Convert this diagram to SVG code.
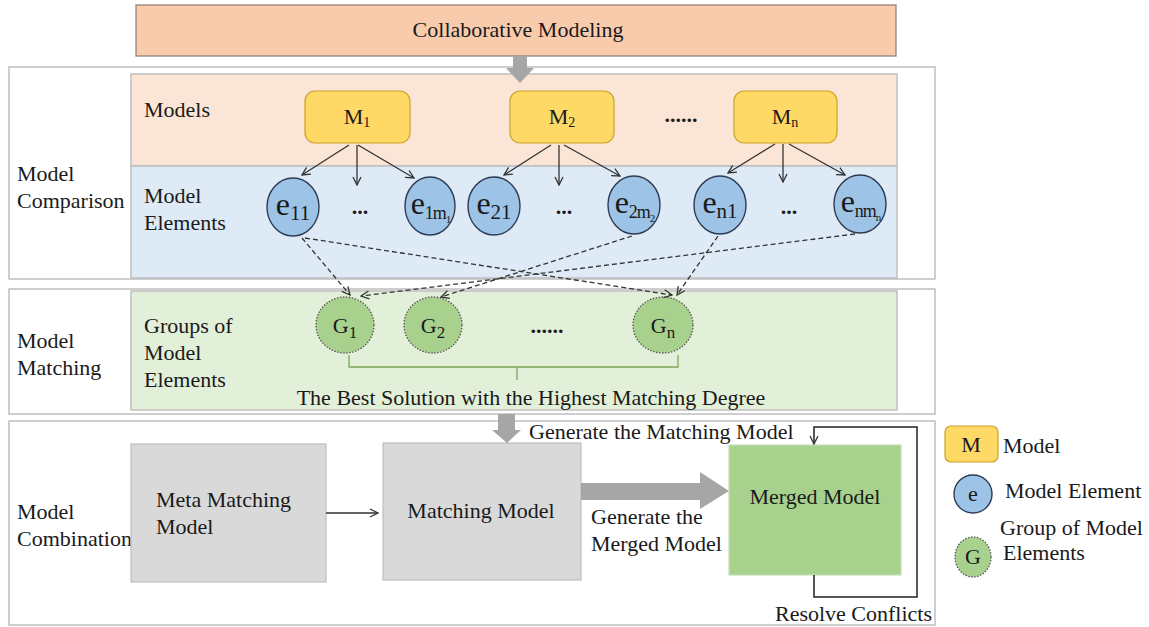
<svg xmlns="http://www.w3.org/2000/svg" width="1149" height="627" viewBox="0 0 1149 627">
  <defs>
    <style>
      text { font-family: "Liberation Serif", "Times New Roman", serif; fill: #1a1a1a; }
      .lbl { font-size: 22px; }
      .sec { fill: #ffffff; stroke: #bfbfbf; stroke-width: 1.5; }
      .band { stroke: #bfbfbf; stroke-width: 1.5; }
      .mbox { fill: #ffd966; stroke: #c9a227; stroke-width: 1.2; }
      .elem { fill: #9dc3e6; stroke: #2e3b55; stroke-width: 1.4; }
      .grp { fill: #a9d18e; stroke: #555; stroke-width: 1.3; stroke-dasharray: 1.5 1.5; }
      .gbox { fill: #d9d9d9; stroke: #bfbfbf; stroke-width: 1.2; }
      .solid { fill: none; stroke: #333; stroke-width: 1.3; marker-end: url(#open); }
      .dash { fill: none; stroke: #333; stroke-width: 1.3; stroke-dasharray: 5 3; marker-end: url(#open); }
      .big { fill: #a6a6a6; }
      .ev { font-size: 32px; }
      .es { font-size: 21px; }
      .esm { font-size: 18px; letter-spacing: -1px; }
      .ess { font-size: 11px; }
    </style>
    <marker id="open" viewBox="0 0 10 10" refX="9" refY="5" markerWidth="10" markerHeight="10" markerUnits="userSpaceOnUse" orient="auto">
      <path d="M1,1 L9,5 L1,9" fill="none" stroke="#333" stroke-width="1.3"/>
    </marker>
  </defs>

  <!-- top banner -->
  <g id="collab">
    <rect x="136" y="5" width="760" height="51" fill="#f8cbad" stroke="#8c7b70" stroke-width="1.2"/>
    <text class="lbl" x="518" y="37" text-anchor="middle">Collaborative Modeling</text>
  </g>

  <!-- section frames -->
  <g id="sec-comparison">
    <rect class="sec" x="9" y="67" width="926" height="212"/>
    <rect class="band" x="131" y="74" width="766" height="92" fill="#fbe5d6"/>
    <rect class="band" x="131" y="166" width="766" height="112" fill="#deebf7"/>
    <text class="lbl" x="17" y="181">Model</text>
    <text class="lbl" x="17" y="208">Comparison</text>
    <text class="lbl" x="144" y="117">Models</text>
    <text class="lbl" x="144" y="203">Model</text>
    <text class="lbl" x="144" y="230">Elements</text>
  </g>
  <g id="sec-matching">
    <rect class="sec" x="9" y="289" width="926" height="125"/>
    <rect class="band" x="131" y="291" width="766" height="119" fill="#e2f0d9"/>
    <text class="lbl" x="17" y="348">Model</text>
    <text class="lbl" x="17" y="375">Matching</text>
    <text class="lbl" x="144" y="333">Groups of</text>
    <text class="lbl" x="144" y="360">Model</text>
    <text class="lbl" x="144" y="387">Elements</text>
  </g>
  <g id="sec-combination">
    <rect class="sec" x="9" y="421" width="926" height="204"/>
    <text class="lbl" x="17" y="519">Model</text>
    <text class="lbl" x="17" y="546">Combination</text>
  </g>

  <!-- models -->
  <g id="m1">
    <rect class="mbox" x="305" y="91" width="105" height="52" rx="10"/>
    <text class="lbl" x="357" y="124" text-anchor="middle">M<tspan font-size="14" dy="3">1</tspan></text>
  </g>
  <g id="m2">
    <rect class="mbox" x="510" y="91" width="104" height="52" rx="10"/>
    <text class="lbl" x="562" y="124" text-anchor="middle">M<tspan font-size="14" dy="3">2</tspan></text>
  </g>
  <text class="lbl" x="681" y="122" text-anchor="middle" font-weight="bold">......</text>
  <g id="mn">
    <rect class="mbox" x="734" y="91" width="103" height="52" rx="10"/>
    <text class="lbl" x="785" y="124" text-anchor="middle">M<tspan font-size="14" dy="3">n</tspan></text>
  </g>

  <!-- model elements -->
  <g id="e11">
    <ellipse class="elem" cx="293" cy="207" rx="26" ry="29"/>
    <text class="ev" x="293" y="215" text-anchor="middle">e<tspan class="es" dy="5">11</tspan></text>
  </g>
  <text class="lbl" x="360" y="214" text-anchor="middle" font-weight="bold">...</text>
  <g id="e1m1">
    <ellipse class="elem" cx="430" cy="206" rx="25" ry="29"/>
    <text class="ev" x="431" y="214" text-anchor="middle">e<tspan class="esm" dy="5">1m</tspan><tspan class="ess" dy="4">1</tspan></text>
  </g>
  <g id="e21">
    <ellipse class="elem" cx="494" cy="206" rx="26" ry="29"/>
    <text class="ev" x="494" y="214" text-anchor="middle">e<tspan class="es" dy="5">21</tspan></text>
  </g>
  <text class="lbl" x="564" y="214" text-anchor="middle" font-weight="bold">...</text>
  <g id="e2m2">
    <ellipse class="elem" cx="634" cy="205" rx="26" ry="29"/>
    <text class="ev" x="635" y="213" text-anchor="middle">e<tspan class="esm" dy="5">2m</tspan><tspan class="ess" dy="4">2</tspan></text>
  </g>
  <g id="en1">
    <ellipse class="elem" cx="720" cy="205" rx="26" ry="29"/>
    <text class="ev" x="720" y="213" text-anchor="middle">e<tspan class="es" dy="5">n1</tspan></text>
  </g>
  <text class="lbl" x="789" y="214" text-anchor="middle" font-weight="bold">...</text>
  <g id="enmn">
    <ellipse class="elem" cx="860" cy="204" rx="26" ry="29"/>
    <text class="ev" x="861" y="212" text-anchor="middle">e<tspan class="esm" dy="5">nm</tspan><tspan class="ess" dy="4">n</tspan></text>
  </g>

  <!-- groups -->
  <g id="g1">
    <ellipse class="grp" cx="345" cy="325" rx="29" ry="28"/>
    <text class="lbl" x="345" y="333" text-anchor="middle" font-size="26">G<tspan font-size="17" dy="5">1</tspan></text>
  </g>
  <g id="g2">
    <ellipse class="grp" cx="433" cy="325" rx="29" ry="28"/>
    <text class="lbl" x="433" y="333" text-anchor="middle" font-size="26">G<tspan font-size="17" dy="5">2</tspan></text>
  </g>
  <text class="lbl" x="547" y="333" text-anchor="middle" font-weight="bold">......</text>
  <g id="gn">
    <ellipse class="grp" cx="663" cy="325" rx="30" ry="28"/>
    <text class="lbl" x="663" y="333" text-anchor="middle" font-size="26">G<tspan font-size="17" dy="5">n</tspan></text>
  </g>

  <!-- combination nodes -->
  <g id="meta">
    <rect class="gbox" x="131" y="444" width="195" height="138"/>
    <text class="lbl" x="156" y="507">Meta Matching</text>
    <text class="lbl" x="156" y="534">Model</text>
  </g>
  <g id="matching">
    <rect class="gbox" x="383" y="443" width="198" height="137"/>
    <text class="lbl" x="481" y="518" text-anchor="middle">Matching Model</text>
  </g>
  <g id="merged">
    <rect x="729" y="445" width="172" height="130" fill="#a9d18e" stroke="#c5e0b4" stroke-width="1.2"/>
    <text class="lbl" x="815" y="504" text-anchor="middle">Merged Model</text>
  </g>

  <!-- legend -->
  <g id="legend">
    <rect class="mbox" x="945" y="426" width="53" height="36" rx="6"/>
    <text class="lbl" x="971" y="452" text-anchor="middle">M</text>
    <text class="lbl" x="1003" y="453">Model</text>
    <ellipse class="elem" cx="973" cy="494" rx="19" ry="19"/>
    <text class="lbl" x="973" y="501" text-anchor="middle">e</text>
    <text class="lbl" x="1005" y="498">Model Element</text>
    <ellipse class="grp" cx="973" cy="557" rx="18" ry="20"/>
    <text class="lbl" x="973" y="564" text-anchor="middle">G</text>
    <text class="lbl" x="1000" y="535">Group of Model</text>
    <text class="lbl" x="1003" y="560">Elements</text>
  </g>

  <!-- connectors -->
  <g id="connectors">
    <polygon class="big" points="513,56 527,56 527,68 534,68 520,83 506,68 513,68"/>

    <path class="solid" d="M349,145 L302,175"/>
    <path class="solid" d="M357,145 L357,185"/>
    <path class="solid" d="M358,145 L414,178"/>
    <path class="solid" d="M551,145 L504,175"/>
    <path class="solid" d="M559,145 L559,185"/>
    <path class="solid" d="M564,145 L620,176"/>
    <path class="solid" d="M775,144 L728,173"/>
    <path class="solid" d="M783,144 L783,182"/>
    <path class="solid" d="M789,144 L845,175"/>

    <path class="dash" d="M302,238 L350,295"/>
    <path class="dash" d="M305,238 L672,295"/>
    <path class="dash" d="M632,236 L441,297"/>
    <path class="dash" d="M855,234 L361,296"/>
    <path class="dash" d="M718,236 L677,295"/>

    <path d="M349,355 V367 H678 V355 M517,367 V380" fill="none" stroke="#7ca55a" stroke-width="1.3"/>
    <text class="lbl" x="531" y="405" text-anchor="middle">The Best Solution with the Highest Matching Degree</text>

    <polygon class="big" points="498,414 515,414 515,430 521,430 507,443 492,430 498,430"/>
    <text class="lbl" x="529" y="439">Generate the Matching Model</text>

    <path class="solid" d="M326,513 L378,513"/>

    <polygon class="big" points="581,483 700,483 700,472 729,491 700,509 700,500 581,500"/>
    <text class="lbl" x="591" y="524">Generate the</text>
    <text class="lbl" x="591" y="551">Merged Model</text>

    <path d="M814,575 V597 H917 V427 H814 V444" fill="none" stroke="#222" stroke-width="1.5" marker-end="url(#open)"/>
    <text class="lbl" x="932" y="621" text-anchor="end">Resolve Conflicts</text>
  </g>
</svg>
